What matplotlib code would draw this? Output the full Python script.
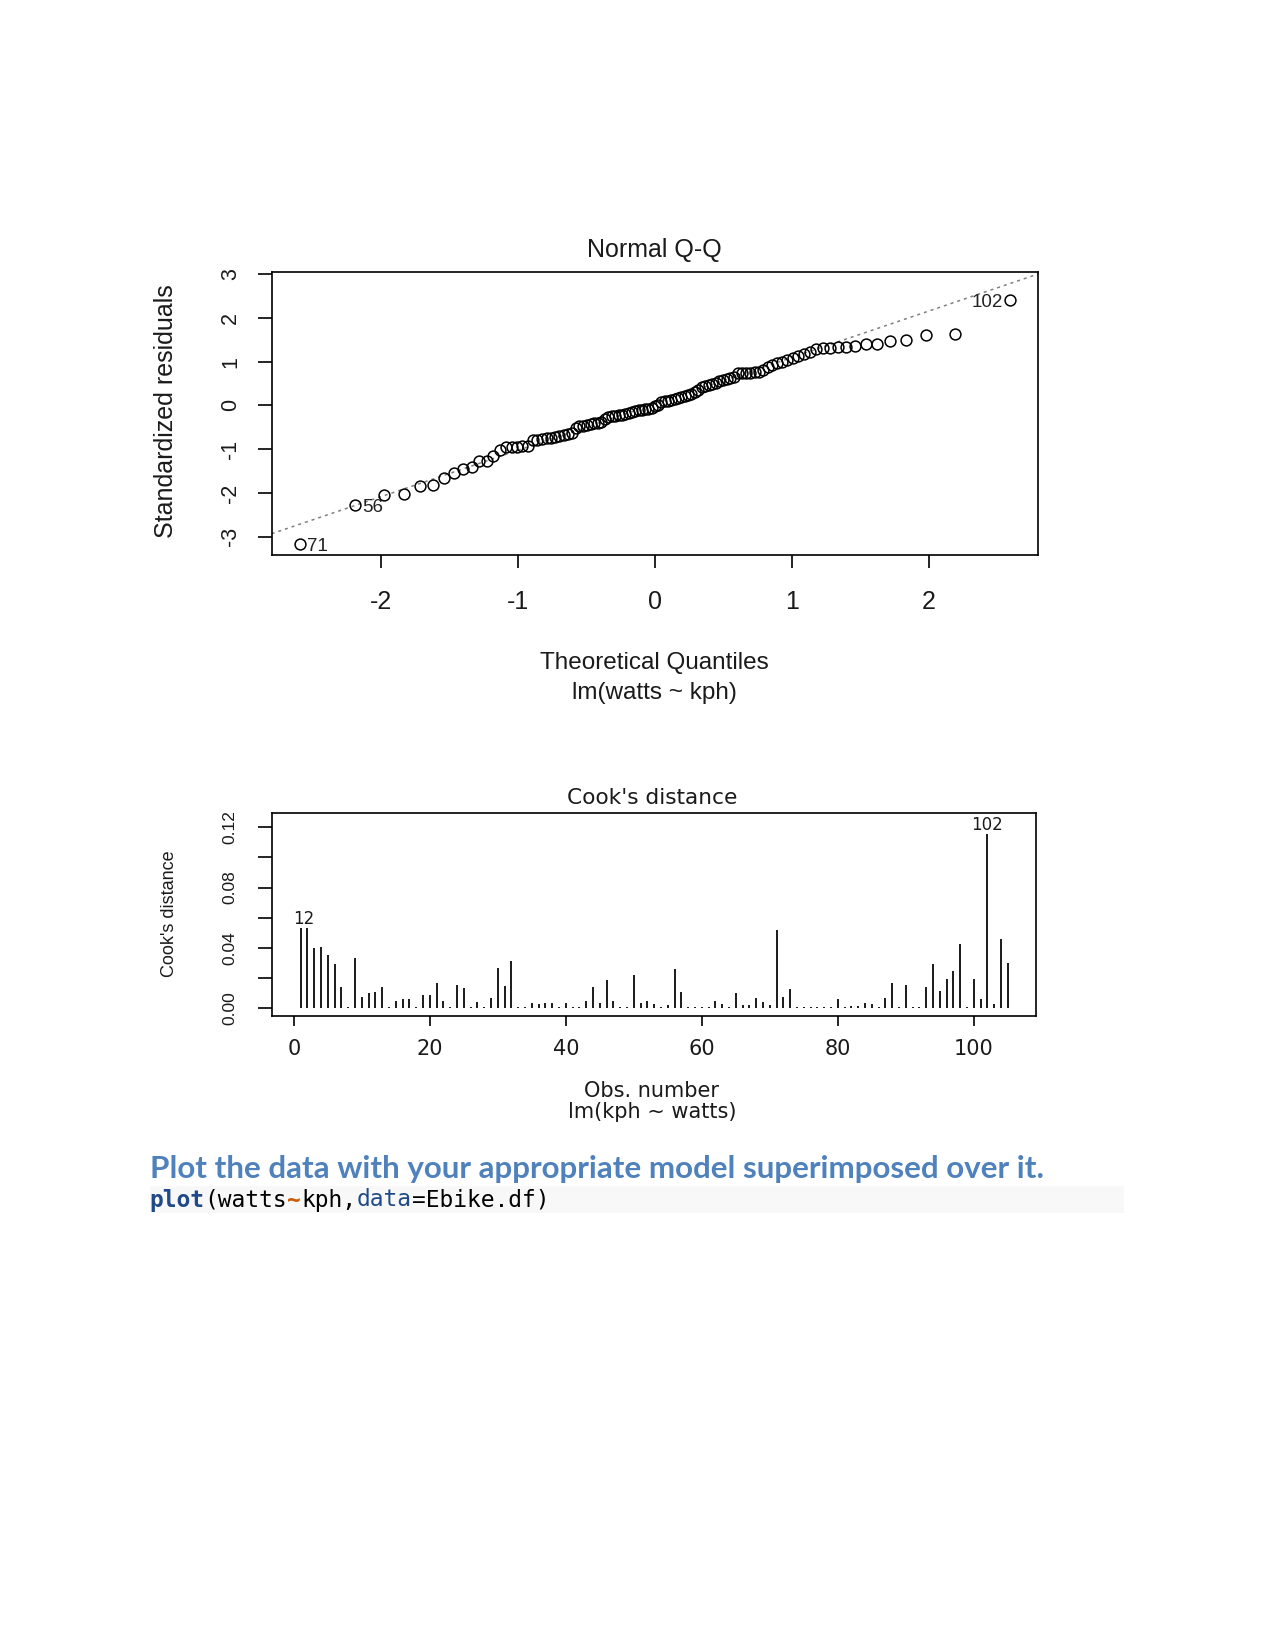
import numpy as np
import matplotlib
matplotlib.use("Agg")
import matplotlib.pyplot as plt
from matplotlib import transforms
from matplotlib.patches import Rectangle
from statistics import NormalDist

plt.rcParams['font.family'] = ['Liberation Sans', 'DejaVu Sans']

# ---------------- data ----------------
# sorted standardized residuals (Normal Q-Q)
qq_residuals = [
    -3.17, -2.28, -2.05, -2.02, -1.84, -1.82, -1.66, -1.55, -1.45, -1.40,
    -1.27, -1.26, -1.15, -1.01, -0.96, -0.95, -0.94, -0.93, -0.92, -0.80,
    -0.78, -0.76, -0.75, -0.74, -0.72, -0.71, -0.68, -0.66, -0.62, -0.52,
    -0.48, -0.46, -0.45, -0.43, -0.41, -0.40, -0.37, -0.32, -0.27, -0.25,
    -0.24, -0.23, -0.22, -0.20, -0.17, -0.14, -0.12, -0.11, -0.10, -0.09,
    -0.08, -0.06, -0.02, 0.02, 0.08, 0.10, 0.11, 0.13, 0.15, 0.17,
    0.19, 0.21, 0.23, 0.26, 0.30, 0.36, 0.42, 0.45, 0.47, 0.49,
    0.52, 0.55, 0.58, 0.60, 0.62, 0.66, 0.74, 0.75, 0.75, 0.75,
    0.76, 0.76, 0.80, 0.88, 0.92, 0.97, 1.00, 1.04, 1.08, 1.12,
    1.17, 1.23, 1.30, 1.31, 1.32, 1.33, 1.33, 1.35, 1.40, 1.41,
    1.48, 1.49, 1.61, 1.62, 2.40,
]
# labelled points: rank in sorted order -> observation number
qq_label_rank = [0, 1, 104]
qq_label_text = ["71", "56", "102"]

# Cook's distance per observation
obs_number = list(range(1, 106))
cooks_distance = [
    0.0533, 0.0533, 0.0399, 0.0405, 0.0354, 0.0295, 0.0140, 0.0008, 0.0332, 0.0073,
    0.0102, 0.0109, 0.0140, 0.0008, 0.0051, 0.0062, 0.0064, 0.0008, 0.0086, 0.0086,
    0.0168, 0.0051, 0.0008, 0.0153, 0.0133, 0.0008, 0.0044, 0.0008, 0.0066, 0.0266,
    0.0148, 0.0310, 0.0008, 0.0008, 0.0033, 0.0025, 0.0035, 0.0035, 0.0008, 0.0035,
    0.0008, 0.0008, 0.0051, 0.0140, 0.0033, 0.0184, 0.0051, 0.0008, 0.0008, 0.0221,
    0.0033, 0.0051, 0.0030, 0.0008, 0.0022, 0.0259, 0.0110, 0.0008, 0.0008, 0.0008,
    0.0008, 0.0051, 0.0030, 0.0008, 0.0104, 0.0022, 0.0022, 0.0066, 0.0038, 0.0022,
    0.0516, 0.0073, 0.0126, 0.0008, 0.0008, 0.0008, 0.0008, 0.0008, 0.0008, 0.0058,
    0.0008, 0.0015, 0.0015, 0.0033, 0.0028, 0.0010, 0.0066, 0.0170, 0.0008, 0.0155,
    0.0008, 0.0008, 0.0140, 0.0295, 0.0117, 0.0193, 0.0244, 0.0427, 0.0008, 0.0193,
    0.0058, 0.1156, 0.0030, 0.0458, 0.0303,
]
# the three largest distances are labelled; obs 1 and 2 sit side by side and read as "12"
cook_label_groups = [[1, 2], [102]]

qq_xticks = [-2, -1, 0, 1, 2]
qq_yticks = [-3, -2, -1, 0, 1, 2, 3]
cook_xticks = [0, 20, 40, 60, 80, 100]
cook_yticks = [0.00, 0.02, 0.04, 0.06, 0.08, 0.10, 0.12]
cook_yticklabels = ["0.00", "", "0.04", "", "0.08", "", "0.12"]

# ---------------- figure ----------------
W, H = 1275, 1651
fig = plt.figure(figsize=(W / 100, H / 100), dpi=100)
fig.patch.set_facecolor("white")


def fx(x):
    return x / W


def fy(y):
    return 1 - y / H


# ---------- Normal Q-Q ----------
ax1 = fig.add_axes([fx(271.6), fy(554.6), (1038.2 - 271.6) / W, (554.6 - 271.6) / H])
res = np.array(qq_residuals)
n = len(res)
theo = np.array([NormalDist().inv_cdf((i - 0.5) / n) for i in range(1, n + 1)])
ax1.plot(theo, res, linestyle="none", marker="o", markersize=7.8,
         markerfacecolor="none", markeredgecolor="black", markeredgewidth=1.1)
q25, q75 = np.quantile(res, [0.25, 0.75])
z25, z75 = NormalDist().inv_cdf(0.25), NormalDist().inv_cdf(0.75)
slope = (q75 - q25) / (z75 - z25)
intercept = q25 - slope * z25
ax1.axline((0, intercept), slope=slope, color="#808080", lw=1.1,
           linestyle=(0, (2.0, 2.6)), zorder=1)

xr = theo.max() - theo.min()
ax1.set_xlim(theo.min() - 0.04 * xr, theo.max() + 0.04 * xr)
d = res.max() - res.min()
hi = res.max() + 0.075 * d
r = hi - res.min()
ax1.set_ylim(res.min() - 0.04 * r, hi + 0.04 * r)

for rank, lab in zip(qq_label_rank, qq_label_text):
    if theo[rank] < 0:
        ax1.annotate(lab, (theo[rank], res[rank]), xytext=(5.2, 0), textcoords="offset points",
                     ha="left", va="center_baseline", fontsize=13.5, color="#222222")
    else:
        ax1.annotate(lab, (theo[rank], res[rank]), xytext=(-5.2, 0), textcoords="offset points",
                     ha="right", va="center_baseline", fontsize=13.5, color="#222222")

ax1.set_xticks(qq_xticks)
ax1.set_xticklabels([str(v) for v in qq_xticks])
ax1.set_yticks(qq_yticks)
ax1.set_yticklabels([str(v) for v in qq_yticks], rotation=90, va="center")
ax1.tick_params(axis="x", direction="out", length=9.5, width=1.2, pad=16, labelsize=18,
                colors="black", labelcolor="#1a1a1a")
ax1.tick_params(axis="y", direction="out", length=10, width=1.2, pad=12, labelsize=15.5,
                colors="black", labelcolor="#1a1a1a")
for sp in ax1.spines.values():
    sp.set_linewidth(1.2)
    sp.set_color("black")

fig.text(fx(654), fy(250), "Normal Q-Q", ha="center", va="center", fontsize=18, color="#1a1a1a")
fig.text(fx(654), fy(663), "Theoretical Quantiles", ha="center", va="center", fontsize=17.5, color="#1a1a1a")
fig.text(fx(654), fy(693), "lm(watts ~ kph)", ha="center", va="center", fontsize=17.5, color="#1a1a1a")
fig.text(fx(166), fy(411), "Standardized residuals", ha="center", va="center", rotation=90,
         fontsize=18, color="#1a1a1a")

# ---------- Cook's distance ----------
ax2 = fig.add_axes([fx(272.3), fy(1015.7), (1036 - 272.3) / W, (1015.7 - 813.4) / H])
obs = np.array(obs_number)
cd = np.array(cooks_distance)
ax2.vlines(obs, 0, cd, colors="#1a1a1a", linewidth=1.4)
xr2 = obs.max() - obs.min()
ax2.set_xlim(obs.min() - 0.04 * xr2, obs.max() + 0.04 * xr2)
top = cd.max() * 1.075
ax2.set_ylim(-0.04 * top, top * 1.04)
for grp in cook_label_groups:
    gx = float(np.mean(grp))
    gy = float(max(cd[o - 1] for o in grp))
    ax2.annotate("".join(str(o) for o in grp), (gx, gy), xytext=(0, 0), textcoords="offset points",
                 ha="center", va="bottom", fontsize=12, family="DejaVu Sans", color="#1a1a1a")

ax2.set_xticks(cook_xticks)
ax2.set_xticklabels([str(v) for v in cook_xticks], family="DejaVu Sans")
ax2.set_yticks(cook_yticks)
ax2.set_yticklabels(cook_yticklabels, rotation=90, va="center")
ax2.tick_params(axis="x", direction="out", length=7.5, width=1.2, pad=9, labelsize=15,
                colors="black", labelcolor="#1a1a1a")
ax2.tick_params(axis="y", direction="out", length=10, width=1.2, pad=15.5, labelsize=12.5,
                colors="black", labelcolor="#1a1a1a")
for sp in ax2.spines.values():
    sp.set_linewidth(1.2)
    sp.set_color("black")

fig.text(fx(652), fy(798), "Cook's distance", ha="center", va="center", fontsize=15.6,
         family="DejaVu Sans", color="#1a1a1a")
fig.text(fx(652), fy(1091), "Obs. number", ha="center", va="center", fontsize=15,
         family="DejaVu Sans", color="#1a1a1a")
fig.text(fx(652), fy(1112), "lm(kph ~ watts)", ha="center", va="center", fontsize=15,
         family="DejaVu Sans", color="#1a1a1a")
fig.text(fx(169), fy(914), "Cook's distance", ha="center", va="center", rotation=90,
         fontsize=13, color="#1a1a1a")

# ---------- document text below ----------
fig.text(fx(149.5), fy(1169), "Plot the data with your appropriate model superimposed over it.",
         ha="left", va="center", fontsize=22.6, fontweight="bold", family="Lato", color="#4f81bd")

fig.patches.append(Rectangle((fx(149.5), fy(1213)), (1124 - 149.5) / W, (1213 - 1186) / H,
                             transform=fig.transFigure, facecolor="#f8f8f8", edgecolor="none",
                             zorder=0))
code_fs = 16.5
segments = [("plot", "#204a87", "bold"), ("(watts", "#000000", "normal"),
            ("~", "#ce5c00", "bold"), ("kph,", "#000000", "normal"),
            ("data", "#204a87", "normal"), ("=Ebike.df)", "#000000", "normal")]
pos = 0
for txt, col, wt in segments:
    tr = transforms.offset_copy(fig.transFigure, fig=fig, x=pos * 0.602 * code_fs, y=0, units="points")
    fig.text(fx(149.5), fy(1200), txt, transform=tr, ha="left", va="center",
             fontsize=code_fs, family="DejaVu Sans Mono", color=col, fontweight=wt)
    pos += len(txt)

fig.savefig("out.png", dpi=100, facecolor="white")
